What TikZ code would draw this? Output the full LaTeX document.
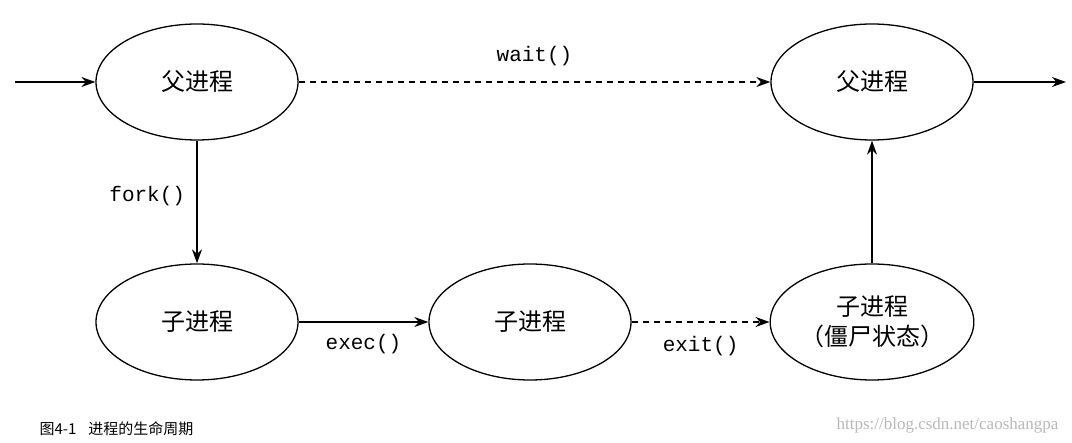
\documentclass[tikz,border=0pt]{standalone}
\usepackage{fontspec}
\setmainfont{Liberation Sans}
\newfontfamily\cjk{Noto Sans CJK SC}
\newfontfamily\mono{Liberation Mono}
\usetikzlibrary{shapes.geometric,arrows.meta}
\tikzset{
  st/.style={ellipse,draw,line width=1.3pt,minimum width=202pt,minimum height=116pt,inner sep=0pt,font=\cjk\fontsize{24}{30}\selectfont},
  ar/.style={line width=1.3pt,-{Stealth[length=14pt,width=10pt]}},
  dar/.style={ar,dash pattern=on 6pt off 5pt},
  lab/.style={font=\mono\fontsize{21}{24}\selectfont}
}
\begin{document}
\begin{tikzpicture}[x=1pt,y=-1pt]
\useasboundingbox[fill=white] (0,0) rectangle (1072,443);
\node[st] (p1) at (197,82) {父进程};
\node[st] (p2) at (872,82) {父进程};
\node[st] (c1) at (197,322) {子进程};
\node[st] (c2) at (530,322) {子进程};
\node[st,align=center] (c3) at (872,322) {子进程\\（僵尸状态）};
\coordinate (in) at (15,82);
\coordinate (out) at (1066,82);
\draw[ar] (in) -- (p1);
\draw[ar] (p2) -- (out);
\draw[dar] (p1) -- node[lab,above=12pt] {wait()} (p2);
\draw[ar] (p1) -- node[lab,pos=0.45,left=8pt] {fork()} (c1);
\draw[ar] (c1) -- node[lab,below=8pt,pos=0.5] {exec()} (c2);
\draw[dar] (c2) -- node[lab,below=10pt] {exit()} (c3);
\draw[ar] (c3) -- (p2);
\node[anchor=west,font=\cjk\fontsize{15}{18}\selectfont] (cap) at (36,429) {图4-1\hspace{12pt}进程的生命周期};
\node[anchor=east,text=gray!55,font=\fontsize{17}{20}\selectfont\rmfamily] (wm) at (1062,425) {\setmainfont{Liberation Serif}https://blog.csdn.net/caoshangpa};
\end{tikzpicture}
\end{document}
